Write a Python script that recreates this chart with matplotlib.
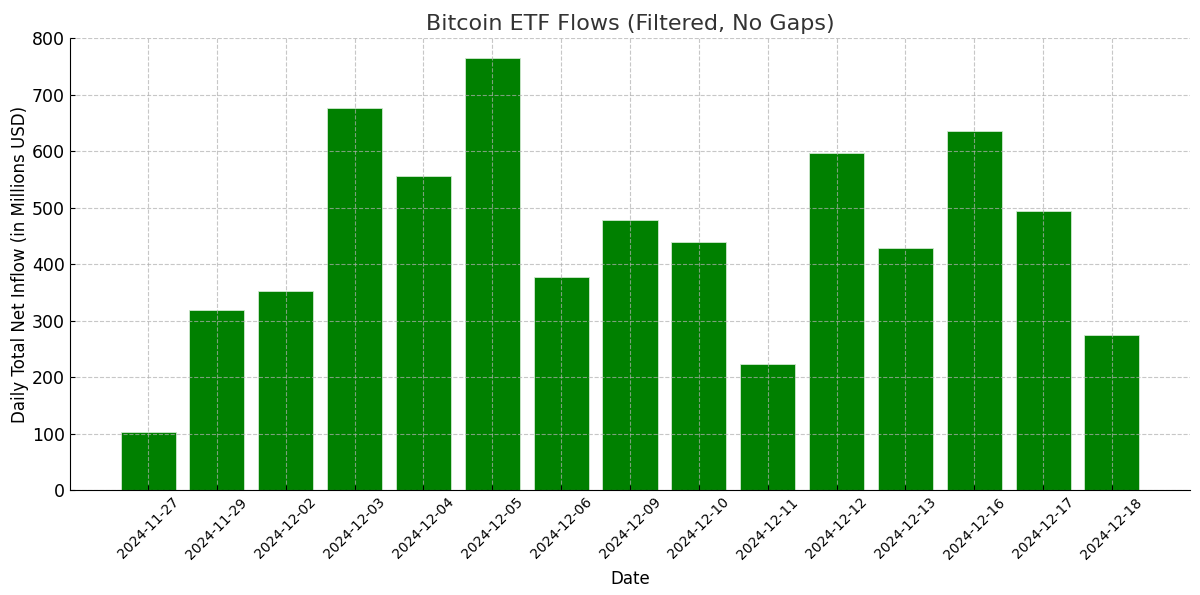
import matplotlib
matplotlib.use("Agg")
import matplotlib.pyplot as plt

dates = ['2024-11-27', '2024-11-29', '2024-12-02', '2024-12-03', '2024-12-04',
         '2024-12-05', '2024-12-06', '2024-12-09', '2024-12-10', '2024-12-11',
         '2024-12-12', '2024-12-13', '2024-12-16', '2024-12-17', '2024-12-18']
net_inflow = [103, 319, 353, 676, 556, 765, 377, 478, 439, 223, 597, 428, 636, 494, 275]

fig, ax = plt.subplots(figsize=(12, 5.95), dpi=100)

ax.bar(dates, net_inflow, color='green', edgecolor='#d0e8d0', linewidth=0.6)

ax.set_title('Bitcoin ETF Flows (Filtered, No Gaps)', fontsize=16, color='#333333')
ax.set_xlabel('Date', fontsize=12, labelpad=6)
ax.set_ylabel('Daily Total Net Inflow (in Millions USD)', fontsize=12, labelpad=2)
ax.set_ylim(0, 800)

ax.tick_params(axis='both', direction='in')
ax.tick_params(axis='y', labelsize=12.5)
ax.tick_params(axis='x', labelsize=10)
plt.setp(ax.get_xticklabels(), rotation=45)

ax.grid(True, linestyle='--', color='#b0b0b0', alpha=0.7, linewidth=0.8)
ax.set_axisbelow(False)
ax.spines['top'].set_visible(False)
ax.spines['right'].set_visible(False)

fig.subplots_adjust(left=0.058, right=0.992, top=0.936, bottom=0.176)
fig.savefig('out.png')
